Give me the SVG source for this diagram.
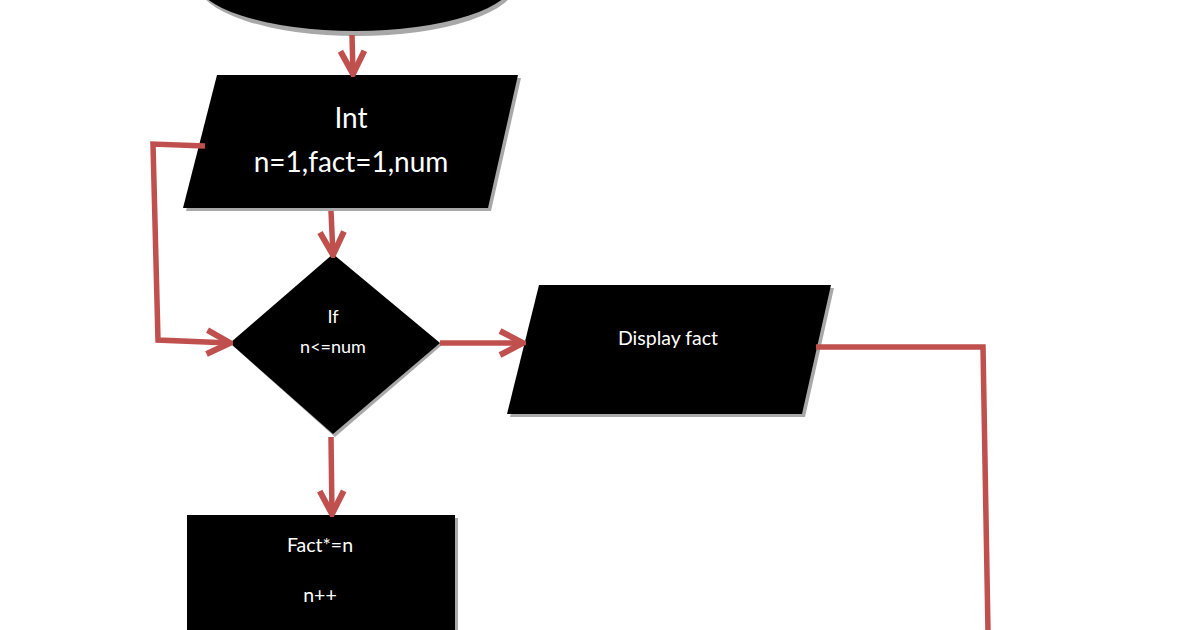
<svg xmlns="http://www.w3.org/2000/svg" width="1200" height="630" viewBox="0 0 1200 630">
<defs>
<style>
.shape{fill:#000}
.shadow{fill:#a8a8a8}
.lbl{fill:#fff;font-family:Lato,"Open Sans","Liberation Sans",sans-serif;text-anchor:middle}
.conn{fill:none;stroke:#c0504d;stroke-width:5.5;stroke-linejoin:miter}
</style>
<marker id="arr" viewBox="0 0 30 30" markerWidth="30" markerHeight="30" refX="27" refY="15" orient="auto" markerUnits="userSpaceOnUse">
<path d="M4,3 L27,15 L4,27" fill="none" stroke="#c0504d" stroke-width="6"/>
</marker>
</defs>
<rect width="1200" height="630" fill="#fff"/>
<g id="start">
<ellipse class="shadow" cx="357" cy="-18" rx="160" ry="54"/>
<ellipse class="shape" cx="355" cy="-21" rx="160" ry="52"/>
</g>
<g id="declare">
<polygon class="shadow" points="220,78 521,78 491,211 186,211"/>
<polygon class="shape" points="217,75 518,75 488,208 183,208"/>
<text class="lbl" x="351" y="128" font-size="28">Int</text>
<text class="lbl" x="351" y="172" font-size="28">n=1,fact=1,num</text>
</g>
<g id="decision">
<polygon class="shadow" points="335,257 442,345 335,437 232,345"/>
<polygon class="shape" points="333,254 440,343 333,434 230,343"/>
<text class="lbl" x="333" y="323" font-size="18">If</text>
<text class="lbl" x="333" y="353" font-size="18">n&lt;=num</text>
</g>
<g id="display">
<polygon class="shadow" points="542,288 834,288 805,417 510,417"/>
<polygon class="shape" points="539,285 831,285 802,414 507,414"/>
<text class="lbl" x="668" y="345" font-size="19.5">Display fact</text>
</g>
<g id="process">
<rect class="shadow" x="190" y="518" width="268" height="120"/>
<rect class="shape" x="187" y="515" width="268" height="120"/>
<text class="lbl" x="320" y="552" font-size="19.5">Fact*=n</text>
<text class="lbl" x="320" y="602" font-size="19.5">n++</text>
</g>
<g id="connectors">
<path class="conn" d="M352,35 L353,74" marker-end="url(#arr)"/>
<path class="conn" d="M331,211 L333,255" marker-end="url(#arr)"/>
<path class="conn" d="M205,146 L153,144 L158,340 L230,343" marker-end="url(#arr)"/>
<path class="conn" d="M440,343 L523,343" marker-end="url(#arr)"/>
<path class="conn" d="M331,437 L332,514" marker-end="url(#arr)"/>
<path class="conn" d="M816,347 L983,347 L988,632"/>
</g>
</svg>
